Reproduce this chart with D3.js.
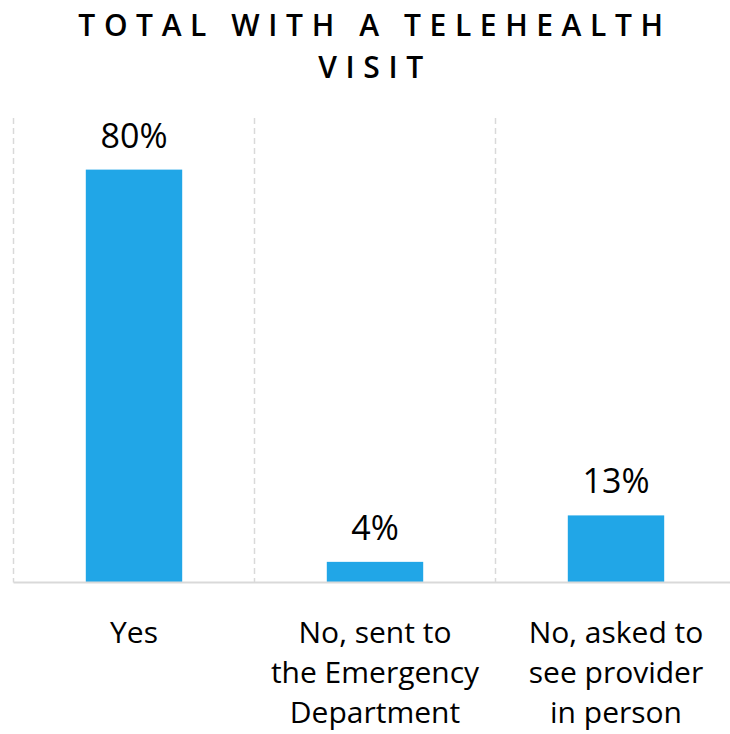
<!DOCTYPE html>
<html>
<head>
<meta charset="utf-8">
<script src="https://cdn.jsdelivr.net/npm/d3@7"></script>
<style>
  html, body { margin: 0; padding: 0; background: #fff; }
  svg text { font-family: "Open Sans", "Noto Sans", sans-serif; }
</style>
</head>
<body>
<svg id="chart" width="730" height="734"></svg>
<script>
// Survey result: outcome of telehealth visits
const titleLines = ["TOTAL WITH A TELEHEALTH", "VISIT"];
const categories = ["Yes", "No, sent to the Emergency Department", "No, asked to see provider in person"];
const categoryLines = [["Yes"], ["No, sent to", "the Emergency", "Department"], ["No, asked to", "see provider", "in person"]];
const values = [80, 4, 13];
const yMax = 90;

const svg = d3.select("#chart");
const plotLeft = 13.5, plotRight = 736.5, plotTop = 118, plotBottom = 582.5;

const x = d3.scaleBand()
  .domain(categories)
  .range([plotLeft, plotRight])
  .paddingInner(0.6)
  .paddingOuter(0.3);

const y = d3.scaleLinear().domain([0, yMax]).range([plotBottom, plotTop]);

const step = x.step();

// Title
svg.append("g")
  .selectAll("text")
  .data(titleLines)
  .join("text")
  .attr("x", 375)
  .attr("y", (d, i) => 36 + i * 42)
  .attr("text-anchor", "middle")
  .attr("font-size", 30)
  .attr("font-weight", 600)
  .attr("letter-spacing", 8.6)
  .attr("fill", "#000")
  .text(d => d);

// Dashed category separators
const seps = d3.range(categories.length + 1).map(i => plotLeft + i * step);
svg.append("g")
  .selectAll("line")
  .data(seps)
  .join("line")
  .attr("x1", d => d).attr("x2", d => d)
  .attr("y1", plotTop).attr("y2", plotBottom)
  .attr("stroke", "#d9d9d9")
  .attr("stroke-width", 1.5)
  .attr("stroke-dasharray", "6,4");

// Bars
svg.append("g")
  .selectAll("rect")
  .data(values)
  .join("rect")
  .attr("x", (d, i) => x(categories[i]))
  .attr("width", x.bandwidth())
  .attr("y", d => y(d))
  .attr("height", d => y(0) - y(d))
  .attr("fill", "#21a6e7");

// Baseline
svg.append("line")
  .attr("x1", plotLeft).attr("x2", plotRight)
  .attr("y1", y(0)).attr("y2", y(0))
  .attr("stroke", "#d9d9d9")
  .attr("stroke-width", 2);

// Value labels
svg.append("g")
  .selectAll("text")
  .data(values)
  .join("text")
  .attr("x", (d, i) => x(categories[i]) + x.bandwidth() / 2)
  .attr("y", d => y(d) - 22)
  .attr("text-anchor", "middle")
  .attr("font-size", 34)
  .attr("fill", "#000")
  .text(d => d + "%");

// Category labels
const catG = svg.append("g")
  .selectAll("text")
  .data(categories)
  .join("text")
  .attr("text-anchor", "middle")
  .attr("font-size", 30)
  .attr("fill", "#000");

catG.each(function (d, i) {
  const cx = x(d) + x.bandwidth() / 2;
  d3.select(this)
    .selectAll("tspan")
    .data(categoryLines[i])
    .join("tspan")
    .attr("x", cx)
    .attr("y", (l, j) => 643 + j * 40)
    .text(l => l);
});
</script>
</body>
</html>
